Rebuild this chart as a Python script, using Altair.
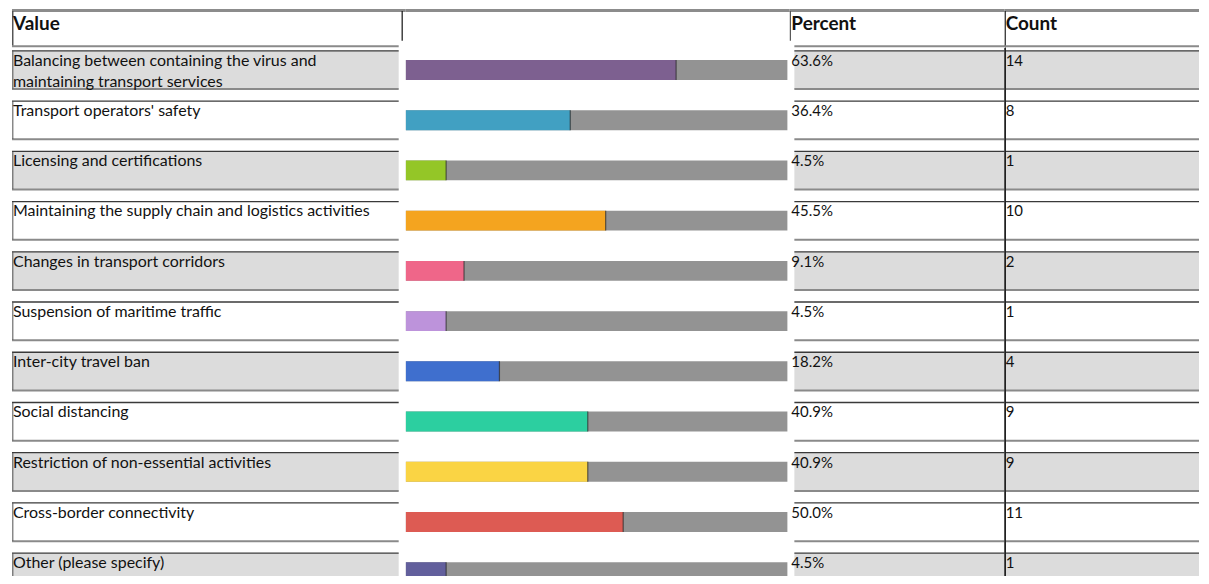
import textwrap
import altair as alt
import pandas as pd

# ---------------- data ----------------
labels = [
    "Balancing between containing the virus and maintaining transport services",
    "Transport operators' safety",
    "Licensing and certifications",
    "Maintaining the supply chain and logistics activities",
    "Changes in transport corridors",
    "Suspension of maritime traffic",
    "Inter-city travel ban",
    "Social distancing",
    "Restriction of non-essential activities",
    "Cross-border connectivity",
    "Other (please specify)",
]
percents = [63.6, 36.4, 4.5, 45.5, 9.1, 4.5, 18.2, 40.9, 40.9, 50.0, 4.5]
counts = [14, 8, 1, 10, 2, 1, 4, 9, 9, 11, 1]
bar_colors = ["#7d6090", "#41a0c2", "#94c627", "#f4a41f", "#ef6689", "#bd93db",
              "#3f6fce", "#2ccfa0", "#fad444", "#dd5b53", "#625f9c"]
headers = ["Value", "", "Percent", "Count"]

# ---------------- style / layout ----------------
FONT = "Lato"
W_VAL, W_BAR, W_PCT, W_CNT = 395, 385, 216, 195
BOX_VAL = 388
TRACK_W = 383
H_HEAD, H_BODY = 38, 530
Y_RANGE = 548.4
TRACK_MIN, TRACK_MAX = -5.9, 92.2
ROW_FILL = ["#dcdcdc", "#ffffff"]
TOP_LINE = "#3a3a3a"
BOT_LINE = "#8a8a8a"

df = pd.DataFrame({
    "label": labels,
    "text": ["\n".join(textwrap.wrap(l, 53)) for l in labels],
    "pct": percents,
    "count": [str(c) for c in counts],
    "row": list(range(len(labels))),
})

yscale = alt.Scale(paddingInner=0.24, paddingOuter=0.06, range=[0, Y_RANGE])


def Y(bp=None):
    if bp is None:
        return alt.Y("label:N", sort=labels, axis=None, scale=yscale)
    return alt.Y("label:N", sort=labels, axis=None, scale=yscale, bandPosition=bp)


base = alt.Chart(df).transform_calculate(
    parity="datum.row % 2",
    lo=str(TRACK_MIN),
    hi=str(TRACK_MAX),
    pct_text="format(datum.pct, '.1f') + '%'",
)

fill_enc = alt.Fill("parity:O", scale=alt.Scale(domain=[0, 1], range=ROW_FILL), legend=None)


def boxes(x0, x1):
    rect = base.mark_rect(clip=True).encode(x=alt.value(x0), x2=alt.value(x1), y=Y(), fill=fill_enc)
    top = base.mark_rule(color=TOP_LINE, strokeWidth=1.3, clip=True).encode(
        x=alt.value(x0), x2=alt.value(x1), y=Y(0))
    bot = base.mark_rule(color=BOT_LINE, strokeWidth=2, clip=True).encode(
        x=alt.value(x0), x2=alt.value(x1), y=Y(1))
    return [rect, top, bot]


def text_style(size):
    return dict(align="left", baseline="alphabetic", font=FONT, fontSize=size,
                color="#111111", dy=15, clip=True)


# ---- Value column ----
left_edge = base.mark_tick(orient="vertical", color="#555555", thickness=1.5, size=38, clip=True).encode(
    x=alt.value(0.75), y=Y())
val_text = base.mark_text(lineBreak="\n", lineHeight=21, **text_style(16)).encode(
    x=alt.value(1), y=Y(0), text="text:N")
body_a = alt.layer(*boxes(0, BOX_VAL), left_edge, val_text).properties(width=W_VAL, height=H_BODY)

# ---- Bar column ----
xs = alt.Scale(domain=[TRACK_MIN, TRACK_MAX], nice=False, zero=False, range=[0, TRACK_W])
track = base.mark_bar(size=20, color="#939393", clip=True).encode(
    x=alt.X("lo:Q", scale=xs, axis=None), x2="hi:Q", y=Y())
filled = base.mark_bar(size=20, clip=True).encode(
    x=alt.X("lo:Q", scale=xs, axis=None), x2="pct:Q", y=Y(),
    color=alt.Color("label:N", scale=alt.Scale(domain=labels, range=bar_colors), legend=None))
endtick = base.mark_tick(orient="vertical", size=20, thickness=1.2, color="#2a2a2a", clip=True).encode(
    x=alt.X("pct:Q", scale=xs, axis=None), y=Y())
body_b = alt.layer(track, filled, endtick).properties(width=W_BAR, height=H_BODY)

# ---- Percent column ----
pct_text = base.mark_text(**text_style(15)).encode(x=alt.value(2), y=Y(0), text="pct_text:N")
body_c = alt.layer(*boxes(5, W_PCT), pct_text).properties(width=W_PCT, height=H_BODY)

# ---- Count column ----
divider = base.mark_rule(color="#222222", strokeWidth=1.2, clip=True).encode(
    x=alt.value(0.6), y=alt.value(0), y2=alt.value(H_BODY))
cnt_text = base.mark_text(**text_style(15)).encode(x=alt.value(1), y=Y(0), text="count:N")
body_d = alt.layer(*boxes(0, W_CNT), divider, cnt_text).properties(width=W_CNT, height=H_BODY)

# ---------------- header row ----------------
hbase = alt.Chart(pd.DataFrame({"h": [0]}))


def head(width, title, tx, vline=None, vline_to=32, vcolor="#222222", bottom=None, left=False):
    layers = [hbase.mark_rule(color="#8c8c8c", strokeWidth=3).encode(
        x=alt.value(0), x2=alt.value(width), y=alt.value(1.5))]
    if left:
        layers.append(hbase.mark_rule(color="#555555", strokeWidth=1.5).encode(
            x=alt.value(0.75), y=alt.value(2), y2=alt.value(37)))
    if vline is not None:
        layers.append(hbase.mark_rule(color=vcolor, strokeWidth=1.2).encode(
            x=alt.value(vline), y=alt.value(2), y2=alt.value(vline_to)))
    if bottom is not None:
        layers.append(hbase.mark_rule(color=BOT_LINE, strokeWidth=2).encode(
            x=alt.value(bottom[0]), x2=alt.value(bottom[1]), y=alt.value(37.5)))
    if title:
        layers.append(hbase.mark_text(text=title, align="left", baseline="alphabetic", font=FONT,
                                      fontSize=19, fontWeight="bold", color="#111111").encode(
            x=alt.value(tx), y=alt.value(21)))
    return alt.layer(*layers).properties(width=width, height=H_HEAD)


head_a = head(W_VAL, headers[0], 1, vline=391.5, vcolor="#111111", bottom=(0, BOX_VAL), left=True)
head_b = head(W_BAR, headers[1], 1)
head_c = head(W_PCT, headers[2], 2, vline=1, vcolor="#555555", bottom=(5, W_PCT))
head_d = head(W_CNT, headers[3], 1, vline=0.6, vline_to=H_HEAD, bottom=(0, W_CNT))

row_head = alt.hconcat(head_a, head_b, head_c, head_d, spacing=0, bounds="flush")
row_body = alt.hconcat(body_a, body_b, body_c, body_d, spacing=0, bounds="flush")

chart = alt.vconcat(row_head, row_body, spacing=0).properties(
    padding={"left": 2, "top": 0, "right": 0, "bottom": 0}
).configure_view(strokeWidth=0).configure_concat(spacing=0)

chart.save("out.html", embed_options={"renderer": "svg", "actions": False})
